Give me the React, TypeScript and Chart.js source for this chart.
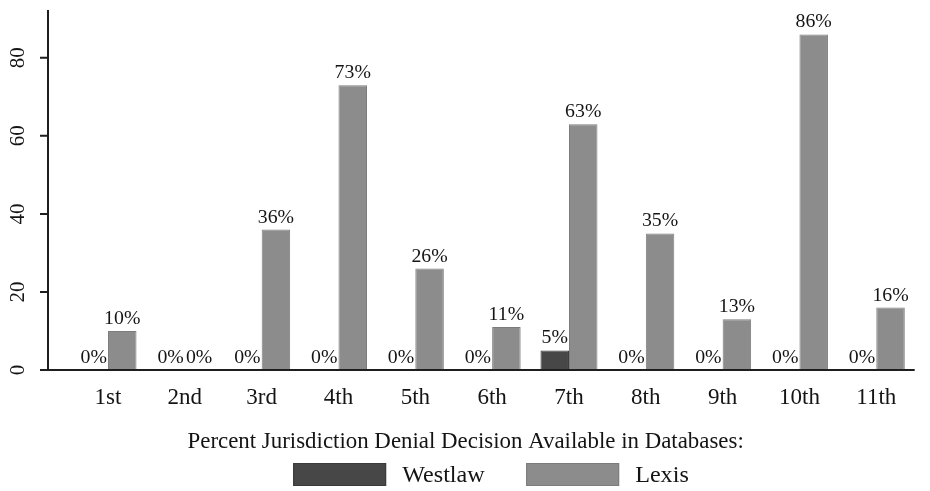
import React, { useEffect, useRef } from "react";
import { Chart, registerables } from "chart.js";

Chart.register(...registerables);

const categories = ["1st", "2nd", "3rd", "4th", "5th", "6th", "7th", "8th", "9th", "10th", "11th"];
const westlaw = [0, 0, 0, 0, 0, 0, 5, 0, 0, 0, 0];
const lexis = [10, 0, 36, 73, 26, 11, 63, 35, 13, 86, 16];
const yTicks = [0, 20, 40, 60, 80];
const seriesNames = ["Westlaw", "Lexis"];
const axisTitle = "Percent Jurisdiction Denial Decision Available in Databases:";

const FONT = '"Liberation Serif", "Times New Roman", serif';
const TEXT = "#141414";
const AXIS = "#1e1e1e";

function drawText(
  ctx: CanvasRenderingContext2D,
  text: string,
  x: number,
  y: number,
  size: number,
  align: CanvasTextAlign,
  sx: number,
  baseline: CanvasTextBaseline = "alphabetic",
  rot = 0
) {
  ctx.save();
  ctx.translate(x, y);
  if (rot) ctx.rotate(rot);
  ctx.scale(sx, 1);
  ctx.font = `${size}px ${FONT}`;
  ctx.textAlign = align;
  ctx.textBaseline = baseline;
  ctx.fillStyle = TEXT;
  ctx.fillText(text, 0, 0);
  ctx.restore();
}

const decorPlugin = {
  id: "decor",
  afterDatasetsDraw(chart: any) {
    const { ctx, chartArea, scales } = chart;
    const { left, right, top, bottom } = chartArea;
    const xs = scales.x;
    const ys = scales.y;
    const axisX = left - 21.6;

    ctx.save();
    ctx.strokeStyle = AXIS;
    ctx.lineWidth = 2;
    ctx.beginPath();
    ctx.moveTo(axisX, top - 1);
    ctx.lineTo(axisX, bottom);
    ctx.moveTo(axisX - 8, bottom);
    ctx.lineTo(right, bottom);
    yTicks.forEach((v) => {
      const y = ys.getPixelForValue(v);
      ctx.moveTo(axisX - 8, y);
      ctx.lineTo(axisX, y);
    });
    ctx.stroke();
    ctx.restore();

    yTicks.forEach((v) => {
      const y = ys.getPixelForValue(v);
      drawText(ctx, String(v), axisX - 30, y, 21, "center", 1.0, "middle", -Math.PI / 2);
    });

    categories.forEach((c, i) => {
      const x = xs.getPixelForValue(i);
      drawText(ctx, c, x, bottom + 34, 23, "center", 1.0);
    });

    chart.data.datasets.forEach((ds: any, di: number) => {
      const meta = chart.getDatasetMeta(di);
      meta.data.forEach((el: any, i: number) => {
        drawText(ctx, `${ds.data[i]}%`, el.x, el.y - 7, 18, "center", 1.1);
      });
    });

    const cx = (left + right) / 2;
    drawText(ctx, axisTitle, cx - 26.5, bottom + 78, 23, "center", 0.995);

    const boxW = 93;
    const boxH = 23;
    const boxTop = bottom + 93;
    const lefts = [cx - 199, cx + 34];
    chart.data.datasets.forEach((ds: any, di: number) => {
      const bx = lefts[di];
      ctx.save();
      ctx.fillStyle = ds.backgroundColor;
      ctx.fillRect(bx, boxTop, boxW, boxH);
      ctx.strokeStyle = ds.borderColor;
      ctx.lineWidth = 1;
      ctx.strokeRect(bx + 0.5, boxTop + 0.5, boxW - 1, boxH - 1);
      ctx.restore();
      drawText(ctx, ds.label, bx + boxW + 16, boxTop + 19, 23, "left", 1.05);
    });
  },
};

export default function App() {
  const ref = useRef<HTMLCanvasElement | null>(null);
  useEffect(() => {
    document.body.style.margin = "0";
    if (!ref.current) return;
    const chart = new Chart(ref.current, {
      type: "bar",
      data: {
        labels: categories,
        datasets: [
          {
            label: seriesNames[0],
            data: westlaw,
            backgroundColor: "#474747",
            borderColor: "#3a3a3a",
            borderWidth: 1,
          },
          {
            label: seriesNames[1],
            data: lexis,
            backgroundColor: "#8c8c8c",
            borderColor: "#7c7c7c",
            borderWidth: 1,
          },
        ],
      },
      options: {
        animation: false,
        responsive: false,
        maintainAspectRatio: false,
        layout: { padding: { left: 69.6, right: 15.3, top: 11, bottom: 121 } },
        datasets: { bar: { categoryPercentage: 0.742, barPercentage: 1 } },
        scales: {
          x: { display: false, offset: true, grid: { display: false } },
          y: { display: false, min: 0, max: 92 },
        },
        plugins: { legend: { display: false }, tooltip: { enabled: false } },
      },
      plugins: [decorPlugin],
    });
    return () => chart.destroy();
  }, []);
  return (
    <div style={{ width: 930, height: 491, background: "#fff" }}>
      <canvas ref={ref} width={930} height={491} style={{ display: "block" }} />
    </div>
  );
}
